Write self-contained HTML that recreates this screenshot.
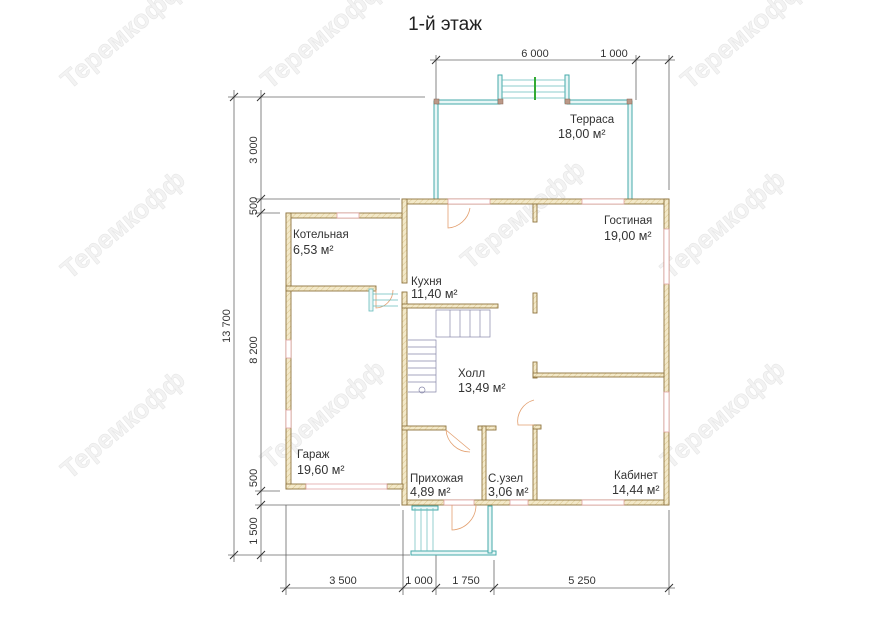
<!DOCTYPE html>
<html><head><meta charset="utf-8"><style>
html,body{margin:0;padding:0;background:#fff;}
svg{display:block;font-family:"Liberation Sans",sans-serif;}
</style></head><body>
<svg width="890" height="630" viewBox="0 0 890 630" xmlns="http://www.w3.org/2000/svg">
<defs>
<pattern id="h" width="4" height="4" patternUnits="userSpaceOnUse" patternTransform="rotate(45)">
<rect width="4" height="4" fill="#f3e9c9"/><line x1="0" y1="0" x2="0" y2="4" stroke="#dcc78f" stroke-width="1"/>
</pattern>
</defs>
<g fill="#f3f3f3" stroke="#e6e6e6" stroke-width="0.6" font-size="26" font-weight="bold">
<text transform="translate(70,90) rotate(-40)">Теремкофф</text>
<text transform="translate(270,90) rotate(-40)">Теремкофф</text>
<text transform="translate(690,90) rotate(-40)">Теремкофф</text>
<text transform="translate(470,270) rotate(-40)">Теремкофф</text>
<text transform="translate(70,280) rotate(-40)">Теремкофф</text>
<text transform="translate(670,280) rotate(-40)">Теремкофф</text>
<text transform="translate(270,470) rotate(-40)">Теремкофф</text>
<text transform="translate(670,470) rotate(-40)">Теремкофф</text>
<text transform="translate(70,480) rotate(-40)">Теремкофф</text>
</g>
<text x="445" y="30" font-size="19" text-anchor="middle" fill="#222">1-й этаж</text>

<g stroke="#666" stroke-width="0.8" fill="none">
<line x1="234" y1="90" x2="234" y2="562"/>
<line x1="261" y1="90" x2="261" y2="562"/>
<line x1="228" y1="97" x2="425" y2="97"/>
<line x1="255" y1="199" x2="400" y2="199"/>
<line x1="255" y1="213" x2="280" y2="213"/>
<line x1="255" y1="491" x2="280" y2="491"/>
<line x1="255" y1="505" x2="400" y2="505"/>
<line x1="228" y1="555" x2="410" y2="555"/>
<line x1="280" y1="588" x2="675" y2="588"/>
<line x1="286" y1="505" x2="286" y2="595"/>
<line x1="403" y1="510" x2="403" y2="595"/>
<line x1="436" y1="555" x2="436" y2="595"/>
<line x1="494" y1="560" x2="494" y2="595"/>
<line x1="669" y1="510" x2="669" y2="595"/>
<line x1="430" y1="60" x2="675" y2="60"/>
<line x1="436" y1="55" x2="436" y2="100"/>
<line x1="636" y1="55" x2="636" y2="100"/>
<line x1="669" y1="55" x2="669" y2="190"/>
</g>
<g stroke="#333" stroke-width="1">
<line x1="230" y1="101" x2="238" y2="93"/><line x1="257" y1="101" x2="265" y2="93"/>
<line x1="257" y1="203" x2="265" y2="195"/><line x1="257" y1="217" x2="265" y2="209"/>
<line x1="257" y1="495" x2="265" y2="487"/><line x1="257" y1="509" x2="265" y2="501"/>
<line x1="230" y1="559" x2="238" y2="551"/><line x1="257" y1="559" x2="265" y2="551"/>
<line x1="282" y1="592" x2="290" y2="584"/><line x1="399" y1="592" x2="407" y2="584"/>
<line x1="432" y1="592" x2="440" y2="584"/><line x1="490" y1="592" x2="498" y2="584"/>
<line x1="665" y1="592" x2="673" y2="584"/>
<line x1="432" y1="64" x2="440" y2="56"/><line x1="632" y1="64" x2="640" y2="56"/><line x1="665" y1="64" x2="673" y2="56"/>
</g>
<g font-size="11" fill="#333" text-anchor="middle">
<text transform="translate(230,326) rotate(-90)">13 700</text>
<text transform="translate(257,150) rotate(-90)">3 000</text>
<text transform="translate(257,206) rotate(-90)">500</text>
<text transform="translate(257,350) rotate(-90)">8 200</text>
<text transform="translate(257,478) rotate(-90)">500</text>
<text transform="translate(257,531) rotate(-90)">1 500</text>
<text x="343" y="584">3 500</text><text x="419" y="584">1 000</text>
<text x="466" y="584">1 750</text><text x="582" y="584">5 250</text>
<text x="535" y="57">6 000</text><text x="614" y="57">1 000</text>
</g>

<g stroke="#4aa" stroke-width="1" fill="#e8f6f6">
<rect x="434" y="101" width="4" height="98"/>
<rect x="628" y="101" width="4" height="98"/>
<rect x="437" y="100" width="63" height="4"/>
<rect x="567" y="100" width="62" height="4"/>
<rect x="498" y="75" width="4" height="28"/><rect x="565" y="75" width="4" height="28"/>
</g>
<g stroke="#6bb" stroke-width="0.8"><line x1="502" y1="80" x2="565" y2="80"/><line x1="502" y1="86" x2="565" y2="86"/><line x1="502" y1="92" x2="565" y2="92"/><line x1="502" y1="98" x2="565" y2="98"/></g>
<line x1="535" y1="77" x2="535" y2="100" stroke="#3a3" stroke-width="2"/>
<g fill="#b98" stroke="#865" stroke-width="0.5"><rect x="434" y="99" width="5" height="5"/><rect x="498" y="99" width="5" height="5"/><rect x="565" y="99" width="5" height="5"/><rect x="627" y="99" width="5" height="5"/></g>

<g stroke="#4aa" stroke-width="1" fill="#e8f6f6">
<rect x="411" y="551" width="85" height="4"/>
<rect x="488" y="506" width="4" height="47"/>
<rect x="412" y="506" width="26" height="4"/>
</g>
<g stroke="#6bb" stroke-width="0.7"><line x1="415" y1="508" x2="415" y2="551"/><line x1="421" y1="508" x2="421" y2="551"/><line x1="427" y1="508" x2="427" y2="551"/><line x1="433" y1="508" x2="433" y2="551"/></g>

<g fill="url(#h)" stroke="#8f7540" stroke-width="0.9">
<rect x="402" y="199" width="267" height="5"/>
<rect x="402" y="500" width="267" height="5"/>
<rect x="402" y="199" width="5" height="84"/>
<rect x="402" y="292" width="5" height="213"/>
<rect x="664" y="199" width="5" height="306"/>
<rect x="286" y="213" width="116" height="5"/>
<rect x="286" y="213" width="5" height="276"/>
<rect x="286" y="484" width="20" height="5"/>
<rect x="387" y="484" width="16" height="5"/>
<rect x="286" y="286" width="90" height="5"/>
<rect x="402" y="304" width="96" height="4"/>
<rect x="533" y="204" width="4" height="18"/>
<rect x="533" y="293" width="4" height="20"/>
<rect x="533" y="362" width="4" height="16"/>
<rect x="533" y="373" width="131" height="4"/>
<rect x="533" y="428" width="4" height="72"/>
<rect x="533" y="425" width="8" height="4"/>
<rect x="402" y="426" width="44" height="4"/>
<rect x="478" y="426" width="18" height="4"/>
<rect x="482" y="426" width="4" height="74"/>
</g>
<g fill="#fff" stroke="#d99" stroke-width="0.7">
<rect x="337" y="213" width="22" height="5"/>
<rect x="286" y="340" width="5" height="18"/>
<rect x="286" y="410" width="5" height="18"/>
<rect x="306" y="484" width="81" height="5"/>
<rect x="448" y="199" width="42" height="5"/>
<rect x="582" y="199" width="42" height="5"/>
<rect x="444" y="500" width="30" height="5"/>
<rect x="510" y="500" width="18" height="5"/>
<rect x="582" y="500" width="42" height="5"/>
<rect x="664" y="229" width="5" height="55"/>
<rect x="664" y="392" width="5" height="40"/>
</g>
<g fill="none" stroke="#e3a070" stroke-width="0.8">
<path d="M448 204 L448 228 A24 24 0 0 0 470 208"/>
<path d="M446 430 L470 450 M446 430 A24 24 0 0 0 470 452"/>
<path d="M452 505 L452 530 A25 25 0 0 0 476 505"/>
<path d="M534 400 A22 22 0 0 0 518 425 L534 425"/>
<path d="M376 290 L376 308 A18 18 0 0 0 393 290"/>
</g>
<g fill="none" stroke="#88a" stroke-width="0.7">
<rect x="436" y="310" width="54" height="27"/>
<path d="M408 340 L436 340 L436 392 L408 392"/>
<line x1="408" y1="347" x2="436" y2="347"/><line x1="408" y1="354" x2="436" y2="354"/><line x1="408" y1="361" x2="436" y2="361"/><line x1="408" y1="368" x2="436" y2="368"/><line x1="408" y1="375" x2="436" y2="375"/><line x1="408" y1="382" x2="436" y2="382"/>
<line x1="450" y1="310" x2="450" y2="337"/><line x1="460" y1="310" x2="460" y2="337"/><line x1="470" y1="310" x2="470" y2="337"/><line x1="480" y1="310" x2="480" y2="337"/>
<circle cx="422" cy="390" r="3"/>
</g>
<g stroke="#6bb" fill="#e8f6f6" stroke-width="0.8"><rect x="369" y="289" width="4" height="22"/></g>
<g stroke="#6bb" stroke-width="0.7"><line x1="373" y1="294" x2="398" y2="294"/><line x1="373" y1="300" x2="398" y2="300"/><line x1="373" y1="306" x2="398" y2="306"/></g>

<g font-size="11.5" fill="#333">
<text x="570" y="123">Терраса</text><text x="558" y="138" font-size="12.5">18,00 м²</text>
<text x="604" y="224">Гостиная</text><text x="604" y="240" font-size="12.5">19,00 м²</text>
<text x="293" y="238">Котельная</text><text x="293" y="254" font-size="12.5">6,53 м²</text>
<text x="411" y="285">Кухня</text><text x="411" y="298" font-size="12.5">11,40 м²</text>
<text x="458" y="377">Холл</text><text x="458" y="392" font-size="12.5">13,49 м²</text>
<text x="297" y="458">Гараж</text><text x="297" y="474" font-size="12.5">19,60 м²</text>
<text x="410" y="482">Прихожая</text><text x="410" y="496" font-size="12.5">4,89 м²</text>
<text x="488" y="482">С.узел</text><text x="488" y="496" font-size="12.5">3,06 м²</text>
<text x="614" y="479">Кабинет</text><text x="612" y="494" font-size="12.5">14,44 м²</text>
</g>
</svg>
</body></html>
